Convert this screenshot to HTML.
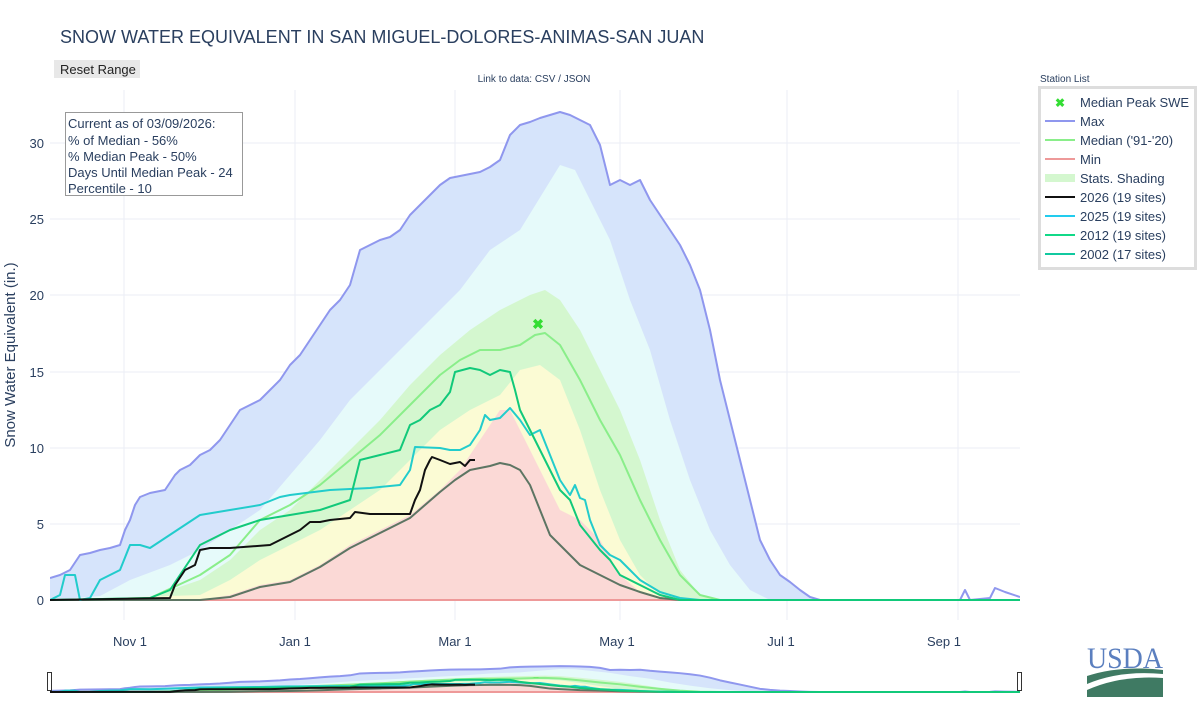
<!DOCTYPE html>
<html><head><meta charset="utf-8"><style>
body{margin:0;background:#fff;font-family:"Liberation Sans",sans-serif;}
svg text{font-family:"Liberation Sans",sans-serif;fill:#2a3f5f;}
polyline{vector-effect:non-scaling-stroke;}
</style></head><body>
<svg width="1200" height="700" xmlns="http://www.w3.org/2000/svg">
<defs><clipPath id="c"><rect x="50" y="90" width="970" height="530"/></clipPath>
<g id="plot">
<polygon fill="#d6e4fb" points="50,600 50,578 60,575 70,570 80,555 90,553 100,550 110,548 120,545 125,530 130,520 135,505 140,497 150,493 165,490 175,475 180,470 190,465 200,455 210,450 220,440 230,425 240,410 250,405 260,400 270,390 280,380 290,365 300,355 310,340 320,325 330,310 340,300 350,285 360,250 370,245 380,240 390,237 400,230 410,215 420,205 430,195 440,185 450,178 460,176 480,172 490,167 500,160 510,135 520,125 530,122 540,118 560,112 570,115 580,120 590,125 600,145 610,185 620,180 630,185 640,180 650,200 660,215 670,230 680,245 690,265 700,290 710,330 720,380 730,420 740,460 750,500 760,540 770,560 780,575 790,582 800,590 810,597 820,600"/>
<polygon fill="#e6fafa" points="50,600 100,596 130,580 170,565 200,550 230,530 260,510 290,475 320,440 350,400 380,370 410,340 440,310 460,290 490,250 520,230 560,165 575,170 590,200 610,240 630,300 650,350 670,420 690,480 710,530 730,565 750,590 770,600"/>
<polygon fill="#d4f7cf" points="50,600 150,597 200,580 230,560 260,530 290,510 320,480 350,450 380,420 410,385 440,355 470,330 500,310 530,295 545,290 560,300 580,330 600,370 620,410 640,460 660,520 680,570 700,595 720,600"/>
<polygon fill="#fbfbd4" points="50,600 200,595 230,580 260,560 290,545 320,530 350,510 380,490 410,460 440,430 470,410 500,395 520,370 540,365 560,380 580,430 600,490 620,540 640,575 660,595 680,600"/>
<polygon fill="#fbd9d6" points="50,600 200,600 230,595 260,585 290,580 320,565 350,545 380,530 410,515 440,490 460,470 480,440 500,410 510,410 520,430 540,470 560,510 580,520 600,540 620,575 640,592 660,600"/>
<g fill="none" stroke-width="2" stroke-linejoin="round">
<polyline stroke="#ee9999" points="50,600 1020,600"/>
<polyline stroke="#8f97ee" points="50,578 60,575 70,570 80,555 90,553 100,550 110,548 120,545 125,530 130,520 135,505 140,497 150,493 165,490 175,475 180,470 190,465 200,455 210,450 220,440 230,425 240,410 250,405 260,400 270,390 280,380 290,365 300,355 310,340 320,325 330,310 340,300 350,285 360,250 370,245 380,240 390,237 400,230 410,215 420,205 430,195 440,185 450,178 460,176 480,172 490,167 500,160 510,135 520,125 530,122 540,118 560,112 570,115 580,120 590,125 600,145 610,185 620,180 630,185 640,180 650,200 660,215 670,230 680,245 690,265 700,290 710,330 720,380 730,420 740,460 750,500 760,540 770,560 780,575 790,582 800,590 810,597 820,600 960,600 965,590 970,600 990,598 995,588 1005,592 1020,597"/>
<polyline stroke="#8aee8a" points="50,600 150,598 200,575 230,555 260,520 290,505 320,485 350,460 380,435 410,405 440,375 460,360 480,350 500,350 520,345 535,335 545,333 560,345 580,380 600,420 620,455 640,500 660,540 680,575 700,595 720,600"/>
<polyline stroke="#5d7563" points="50,600 200,600 230,597 260,587 290,582 320,567 350,548 380,533 410,518 440,492 455,480 470,470 490,466 500,463 510,465 520,470 530,485 540,510 550,535 560,545 570,555 580,565 600,575 620,585 640,592 660,598 680,600 1020,600"/>
<polyline stroke="#22cccc" points="50,600 60,595 65,575 75,575 80,600 90,598 100,580 110,575 120,570 130,545 140,545 150,548 200,515 230,510 260,505 280,497 290,495 330,490 370,488 400,485 410,470 415,447 440,448 450,450 460,450 470,445 480,430 485,415 490,420 500,418 510,408 520,420 530,435 540,430 550,455 560,480 570,495 575,485 580,498 585,500 590,520 600,545 610,555 620,560 630,570 640,580 660,592 680,598 700,600"/>
<polyline stroke="#11c97a" points="50,600 150,598 170,590 180,575 200,545 230,530 260,520 290,515 320,510 350,500 360,460 380,455 400,450 410,425 420,420 430,410 440,405 450,392 455,372 470,368 480,370 490,375 500,370 510,372 515,390 520,410 530,430 540,450 550,470 560,490 570,500 580,525 600,550 610,560 620,575 640,585 660,595 680,600 1020,600"/>
<polyline stroke="#111" points="50,600 170,598 175,585 185,570 195,565 200,550 210,548 230,548 270,545 280,540 290,535 300,530 310,522 320,522 330,520 350,518 355,512 370,514 410,514 415,500 420,490 425,470 430,460 432,457 440,460 450,464 460,462 465,466 470,460 475,460"/>
</g>
<text x="538" y="329" font-size="14" fill="#33dd33" style="fill:#33dd33" text-anchor="middle" font-weight="bold">✖</text>
</g></defs>
<text x="60" y="43" font-size="18">SNOW WATER EQUIVALENT IN SAN MIGUEL-DOLORES-ANIMAS-SAN JUAN</text>
<rect x="54" y="60" width="86" height="18" fill="#e8e8e8"/>
<text x="60" y="74" font-size="13" style="fill:#222">Reset Range</text>
<text x="534" y="82" font-size="10" text-anchor="middle">Link to data: CSV / JSON</text>
<g stroke="#ebeef5" stroke-width="1">
<line x1="124" y1="90" x2="124" y2="620"/><line x1="295" y1="90" x2="295" y2="620"/><line x1="455" y1="90" x2="455" y2="620"/><line x1="620" y1="90" x2="620" y2="620"/><line x1="787" y1="90" x2="787" y2="620"/><line x1="958" y1="90" x2="958" y2="620"/>
<line x1="50" y1="524" x2="1020" y2="524"/><line x1="50" y1="448" x2="1020" y2="448"/><line x1="50" y1="372" x2="1020" y2="372"/><line x1="50" y1="295" x2="1020" y2="295"/><line x1="50" y1="219" x2="1020" y2="219"/><line x1="50" y1="143" x2="1020" y2="143"/>
</g>
<g clip-path="url(#c)"><use href="#plot"/></g>
<g font-size="13" text-anchor="end">
<text x="44" y="605">0</text><text x="44" y="529">5</text><text x="44" y="453">10</text><text x="44" y="377">15</text><text x="44" y="300">20</text><text x="44" y="224">25</text><text x="44" y="148">30</text></g>
<text transform="translate(15,355) rotate(-90)" font-size="15" text-anchor="middle">Snow Water Equivalent (in.)</text>
<g font-size="13" text-anchor="middle">
<text x="130" y="646">Nov  1</text><text x="295" y="646">Jan  1</text><text x="455" y="646">Mar  1</text><text x="617" y="646">May  1</text><text x="781" y="646">Jul  1</text><text x="944" y="646">Sep  1</text></g>
<rect x="65.5" y="112.5" width="177" height="83" fill="#fff" stroke="#999"/>
<g font-size="13"><text x="68" y="128">Current as of 03/09/2026:</text><text x="68" y="145">% of Median - 56%</text><text x="68" y="161">% Median Peak - 50%</text><text x="68" y="177">Days Until Median Peak - 24</text><text x="68" y="193">Percentile - 10</text></g>
<text x="1040" y="82" font-size="10">Station List</text>
<rect x="1039.5" y="87.5" width="156" height="181" fill="#fff" stroke="#ddd" stroke-width="3"/>
<g font-size="13">
<text x="1060" y="107" font-size="12" style="fill:#33dd33" text-anchor="middle" font-weight="bold">✖</text><text x="1080" y="107">Median Peak SWE</text>
<line x1="1045" y1="121" x2="1075" y2="121" stroke="#8f97ee" stroke-width="2"/><text x="1080" y="126">Max</text>
<line x1="1045" y1="140" x2="1075" y2="140" stroke="#8aee8a" stroke-width="2"/><text x="1080" y="145">Median ('91-'20)</text>
<line x1="1045" y1="159" x2="1075" y2="159" stroke="#ee9999" stroke-width="2"/><text x="1080" y="164">Min</text>
<rect x="1045" y="174" width="30" height="8" fill="#d4f7cf"/><text x="1080" y="183">Stats. Shading</text>
<line x1="1045" y1="197" x2="1075" y2="197" stroke="#111" stroke-width="2"/><text x="1080" y="202">2026 (19 sites)</text>
<line x1="1045" y1="216" x2="1075" y2="216" stroke="#22ccee" stroke-width="2"/><text x="1080" y="221">2025 (19 sites)</text>
<line x1="1045" y1="235" x2="1075" y2="235" stroke="#11d988" stroke-width="2"/><text x="1080" y="240">2012 (19 sites)</text>
<line x1="1045" y1="254" x2="1075" y2="254" stroke="#11c9a0" stroke-width="2"/><text x="1080" y="259">2002 (17 sites)</text>
</g>
<g transform="translate(0,660.2) scale(1,0.053)"><use href="#plot"/></g>
<rect x="47.5" y="672.5" width="4" height="18" fill="#fff" stroke="#333"/>
<rect x="1017.5" y="672.5" width="4" height="18" fill="#fff" stroke="#333"/>
<text x="1125" y="668" font-size="30" text-anchor="middle" style="fill:#5b7fbf;font-family:'Liberation Serif',serif" textLength="76" lengthAdjust="spacingAndGlyphs">USDA</text>
<path d="M1087,676 Q1120,665 1163,670 L1163,674 Q1120,670 1087,684 Z" fill="#3f7a63"/>
<path d="M1087,690 Q1120,675 1163,678 L1163,697 L1087,697 Z" fill="#3f7a63"/>
</svg>
</body></html>
